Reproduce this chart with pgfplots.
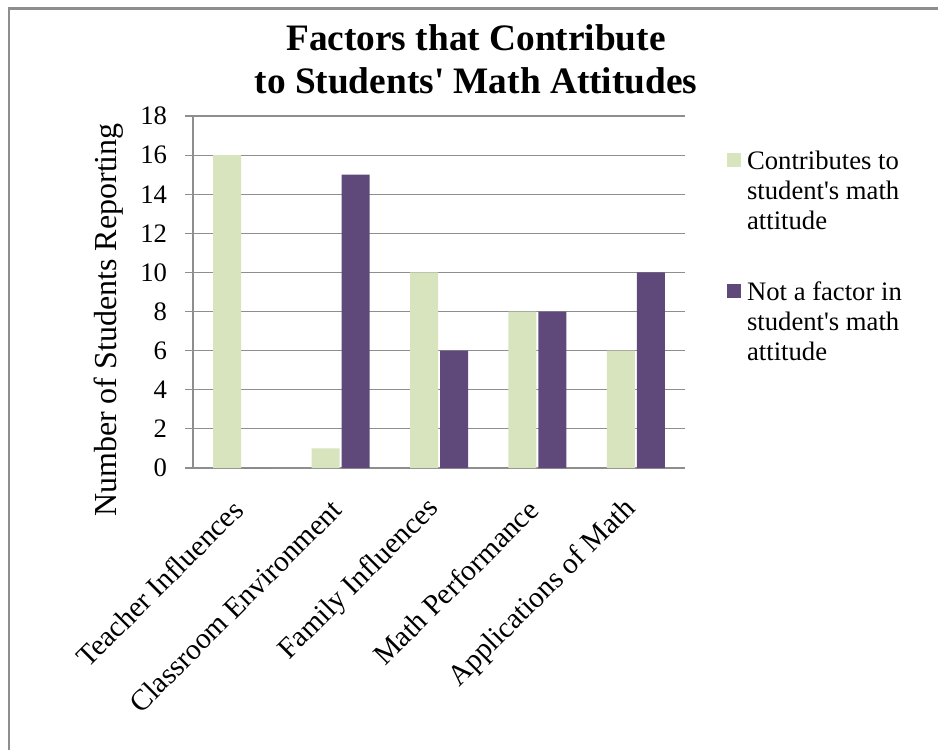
\documentclass[border=0pt]{standalone}
\usepackage{pgfplots}
\pgfplotsset{compat=1.18}
\usepackage{fontspec}
\setmainfont{Liberation Serif}[Ligatures=TeXOff]

\definecolor{barGreen}{HTML}{D7E4BD}
\definecolor{barPurple}{HTML}{5F497A}
\definecolor{lineGray}{HTML}{8E8E8E}

\begin{document}
\begin{tikzpicture}
% page 938 x 750 px, 1px = 0.75pt
\useasboundingbox (0,0) rectangle (703.5pt,562.5pt);
\draw[lineGray, line width=1.8pt] (6.6pt,0) -- (6.6pt,556.1pt) -- (703.5pt,556.1pt);

\node[font=\fontsize{28}{32}\selectfont\bfseries, align=center] at (357pt,518pt)
  {Factors that Contribute\\to Students' Math Attitudes};

\begin{axis}[
  at={(144.75pt,211.5pt)}, anchor=south west,
  scale only axis,
  width=369pt, height=264pt,
  ybar=1.5pt, bar width=21pt,
  xmin=-0.5, xmax=4.5,
  ymin=0, ymax=18,
  ytick={0,2,...,18},
  xtick={0,1,2,3,4},
  xticklabels={Teacher Influences, Classroom Environment, Family Influences, Math Performance, Applications of Math},
  x tick style={draw=none},
  extra x ticks={-0.5,0.5,1.5,2.5,3.5,4.5},
  extra x tick labels={},
  extra x tick style={grid=none, major tick length=6pt, tick align=outside,
    tick style={draw=lineGray, line width=0.9pt}},
  y tick style={draw=lineGray, line width=0.9pt},
  major tick length=6pt, tick align=outside,
  axis x line*=bottom, axis y line*=left,
  axis line style={draw=lineGray, line width=0.9pt},
  ymajorgrids, grid style={draw=lineGray, line width=0.9pt},
  xticklabel style={font=\fontsize{22}{26}\selectfont, rotate=45, anchor=east, yshift=-13pt, xshift=-14pt},
  yticklabel style={font=\fontsize{20}{24}\selectfont, xshift=-10pt},
  /pgf/number format/assume math mode=true,
  ylabel={Number of Students Reporting},
  ylabel style={font=\fontsize{24}{28}\selectfont, yshift=6pt, xshift=-21pt},
  legend style={at={(1.085,0.908)}, anchor=north west, draw=none, fill=none,
    font=\fontsize{20}{22.5}\selectfont, row sep=58pt,
    legend cell align=left, inner sep=0pt, nodes={inner sep=0pt}},
  legend image code/.code={\fill[#1] (0pt,6.5pt) rectangle (10.5pt,17pt); \path (15pt,6.5pt);},
  clip=false,
]
\addplot[fill=barGreen, draw=none] coordinates {(0,16) (1,1) (2,10) (3,8) (4,6)};
\addplot[fill=barPurple, draw=none] coordinates {(0,0) (1,15) (2,6) (3,8) (4,10)};
\legend{{\begin{tabular}{@{}l@{}}Contributes to\\student's math\\attitude\end{tabular}},
        {\begin{tabular}{@{}l@{}}Not a factor in\\student's math\\attitude\end{tabular}}}
\end{axis}
\end{tikzpicture}
\end{document}
